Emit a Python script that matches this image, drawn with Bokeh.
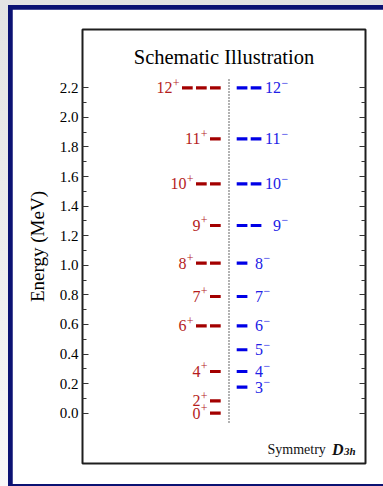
from bokeh.plotting import figure
from bokeh.models import Range1d, FixedTicker, LinearAxis, Label, Column
from bokeh.embed import file_html
from bokeh.resources import INLINE
from bokeh.core.properties import value

# ---------------- data ----------------
spins_pos = [0, 2, 4, 6, 7, 8, 9, 10, 11, 12]
energy_pos = [0.0, 0.084, 0.282, 0.591, 0.789, 1.014, 1.269, 1.551, 1.855, 2.2]
count_pos = [1, 1, 1, 2, 1, 2, 1, 2, 1, 3]
labels_pos = ["0", "2", "4", "6", "7", "8", "9", "10", "11", "12"]

spins_neg = [3, 4, 5, 6, 7, 8, 9, 10, 11, 12]
energy_neg = [0.176, 0.282, 0.429, 0.591, 0.789, 1.014, 1.269, 1.551, 1.855, 2.2]
count_neg = [1, 1, 1, 1, 1, 1, 2, 2, 2, 2]
labels_neg = ["3", "4", "5", "6", "7", "8", "\u00a0\u00a09", "10", "11", "12"]

tick_values = [0.0, 0.2, 0.4, 0.6, 0.8, 1.0, 1.2, 1.4, 1.6, 1.8, 2.0, 2.2]
tick_labels = ["0.0", "0.2", "0.4", "0.6", "0.8", "1.0", "1.2", "1.4", "1.6", "1.8", "2.0", "2.2"]
minor_values = [0.1, 0.3, 0.5, 0.7, 0.9, 1.1, 1.3, 1.5, 1.7, 1.9, 2.1]

title_text = "Schematic Illustration"
ylabel_text = "Energy (MeV)"

# ---------------- style ----------------
SERIF = "Liberation Serif"
RED_LINE, RED_TEXT = "#a30000", "#b51c1c"
BLUE_LINE, BLUE_TEXT = "#0000e6", "#2020e6"
DASH_LEN, DASH_PITCH = 10.7, 14.0
RED_END, BLUE_START = -8.3, 7.7
SUP_W = 7.0


def text_w(t):
    return sum(8.0 if c.isdigit() else 4.0 for c in t)


# build dash segments
rx0, rx1, ry = [], [], []
for e, n in zip(energy_pos, count_pos):
    for k in range(n):
        x1 = RED_END - DASH_PITCH * k
        rx0.append(x1 - DASH_LEN); rx1.append(x1); ry.append(e)
bx0, bx1, by = [], [], []
for e, n in zip(energy_neg, count_neg):
    for k in range(n):
        x0 = BLUE_START + DASH_PITCH * k
        bx0.append(x0); bx1.append(x0 + DASH_LEN); by.append(e)

red_sup_x = [RED_END - DASH_PITCH * (n - 1) - DASH_LEN - 2.5 for n in count_pos]
red_num_x = [x - SUP_W for x in red_sup_x]
blue_num_x = [16 + 10 * n for n in count_neg]
blue_sup_x = [x + text_w(t) + 0.5 for x, t in zip(blue_num_x, labels_neg)]

p = figure(width=371, height=475,
           x_range=Range1d(-146.5, 136.5), y_range=Range1d(-0.340, 2.594),
           x_axis_type=None, output_backend="svg", toolbar_location=None,
           min_border_left=70, min_border_right=18, min_border_top=20, min_border_bottom=21,
           background_fill_color="white", border_fill_color="white",
           outline_line_color="#1e1e1e", outline_line_width=2)
p.grid.visible = False

# y axis (left)
yax = p.yaxis[0]
yax.ticker = FixedTicker(ticks=tick_values, minor_ticks=minor_values)
yax.major_label_overrides = dict(zip(tick_values, tick_labels))
yax.axis_line_color = None
yax.major_tick_in = 6
yax.major_tick_out = 0
yax.minor_tick_in = 4
yax.minor_tick_out = 0
yax.major_tick_line_color = "#333333"
yax.minor_tick_line_color = "#333333"
yax.major_label_standoff = 4
yax.major_label_text_font = SERIF
yax.major_label_text_font_size = "15px"
yax.major_label_text_color = "#000000"
yax.axis_label = ylabel_text
yax.axis_label_text_font = SERIF
yax.axis_label_text_font_size = "19px"
yax.axis_label_text_font_style = "normal"
yax.axis_label_text_color = "#000000"
yax.axis_label_standoff = 9

# right mirror ticks (no labels)
rax = LinearAxis(ticker=FixedTicker(ticks=tick_values, minor_ticks=minor_values),
                 major_label_text_font_size="1px", major_label_text_color=None,
                 major_label_standoff=0, axis_line_color=None,
                 major_tick_in=6, major_tick_out=0, minor_tick_in=4, minor_tick_out=0,
                 major_tick_line_color="#333333", minor_tick_line_color="#333333")
p.add_layout(rax, "right")

# dotted separator
p.segment(x0=[0], y0=[min(energy_pos) - 0.063], x1=[0], y1=[max(energy_pos) + 0.063],
          line_color="black", line_width=1.2, line_dash="1 2")

# level dashes
p.segment(x0=rx0, y0=ry, x1=rx1, y1=ry, line_color=RED_LINE, line_width=3.2)
p.segment(x0=bx0, y0=by, x1=bx1, y1=by, line_color=BLUE_LINE, line_width=3.2)

# level labels: numbers + superscript parity
p.text(x=red_num_x, y=energy_pos, text=labels_pos, text_align="right", text_baseline="middle",
       text_font=value(SERIF), text_font_size="16px", text_color=RED_TEXT)
p.text(x=red_sup_x, y=energy_pos, text=["+"] * len(energy_pos), text_align="right",
       text_baseline="middle", y_offset=-5, text_font=value(SERIF), text_font_size="12px",
       text_color=RED_TEXT)
p.text(x=blue_num_x, y=energy_neg, text=labels_neg, text_align="left", text_baseline="middle",
       text_font=value(SERIF), text_font_size="16px", text_color=BLUE_TEXT)
p.text(x=blue_sup_x, y=energy_neg, text=["\u2212"] * len(energy_neg), text_align="left",
       text_baseline="middle", y_offset=-5, text_font=value(SERIF), text_font_size="12px",
       text_color=BLUE_TEXT)

# title inside frame
p.add_layout(Label(x=-5, y=2.405, text=title_text, text_align="center",
                   text_baseline="alphabetic", text_font=SERIF, text_font_size="20.5px",
                   text_color="#000000"))

# symmetry note
p.add_layout(Label(x=38.5, y=-0.245, text="Symmetry", text_align="left",
                   text_baseline="alphabetic", text_font=SERIF, text_font_size="14px",
                   text_color="#111111"))
p.add_layout(Label(x=103, y=-0.245, text="D", text_align="left",
                   text_baseline="alphabetic", text_font=SERIF, text_font_size="16px",
                   text_font_style="bold italic", text_color="#111111"))
p.add_layout(Label(x=115, y=-0.245, y_offset=-2, text="3h", text_align="left",
                   text_baseline="alphabetic", text_font=SERIF, text_font_size="11px",
                   text_font_style="bold italic", text_color="#111111"))

inner = Column(p, styles={"background-color": "#0b1273", "padding": "4px 4px 4px 4px"})
outer = Column(inner, styles={"background": "linear-gradient(#e3e3e3, #f8f8f8)",
                              "padding": "5px 0px 0px 8px"})

open("out.html", "w").write(file_html(outer, INLINE))
